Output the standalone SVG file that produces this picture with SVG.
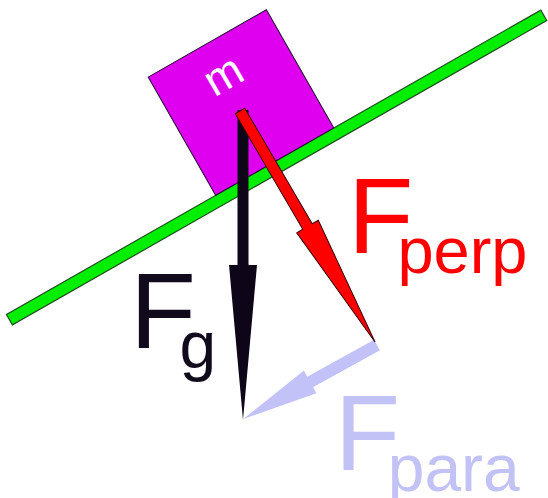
<svg xmlns="http://www.w3.org/2000/svg" width="548" height="498" viewBox="0 0 548 498">
<style>
.lbl{font-family:"Liberation Sans",Arial,sans-serif}
.g{fill:#110a1c}
.r{fill:#ff0000}
.p{fill:#c2c2f6}
</style>
<rect width="548" height="498" fill="#ffffff"/>
<g id="incline">
<rect x="-307.5" y="-6" width="615" height="12" fill="#00ee00" stroke="#1f4f1f" stroke-width="1.2" transform="translate(276.6,167.5) rotate(-29.67)"/>
</g>
<g id="block">
<rect x="-68" y="-68" width="136" height="136" fill="#e000f0" stroke="#2a0a3a" stroke-width="1" transform="translate(241,102.5) rotate(-29.7)"/>
<text class="lbl" x="0" y="11.7" font-size="45" fill="#ffffff" text-anchor="middle" transform="translate(225,78) rotate(-30)">m</text>
</g>
<g id="connectors">
<polygon id="arrow-fg" points="0,-5.5 155,-5.5 155,-14 310,0 155,14 155,5.5 0,5.5" fill="#0e0618" transform="translate(243,110) rotate(90)"/>
<polygon id="arrow-fpara" points="0,-6 76.4,-6 76.4,-13 152.8,0 76.4,13 76.4,6 0,6" fill="#c2c2f8" transform="translate(377,345) rotate(151.04)"/>
<polygon id="arrow-fperp" points="0,-5.5 133.8,-5.5 133.8,-12.5 267.6,0 133.8,12.5 133.8,5.5 0,5.5" fill="#ff0000" stroke="#3a0008" stroke-width="1" stroke-linejoin="miter" transform="translate(240,111) rotate(59.7)"/>
</g>
<g id="label-fg">
<text class="lbl g" x="130" y="348" font-size="108">F</text>
<text class="lbl g" x="179.5" y="368" font-size="66">g</text>
</g>
<g id="label-fperp">
<text class="lbl r" x="348" y="253" font-size="107">F</text>
<text class="lbl r" x="397.4" y="272.5" font-size="65">perp</text>
</g>
<g id="label-fpara">
<text class="lbl p" x="334.7" y="470" font-size="107">F</text>
<text class="lbl p" x="387.7" y="490.7" font-size="66">para</text>
</g>
</svg>
